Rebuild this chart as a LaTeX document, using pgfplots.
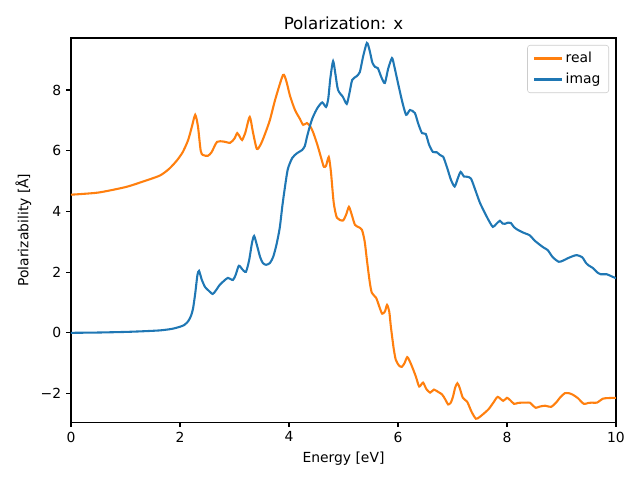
\documentclass[border=0pt]{standalone}
\usepackage{pgfplots}
\pgfplotsset{compat=1.18}
\usepackage{fontspec}
\setmainfont{DejaVu Sans}
\definecolor{mplorange}{HTML}{FF7F0E}
\definecolor{mplblue}{HTML}{1F77B4}
\begin{document}
\begin{tikzpicture}
\begin{axis}[
  scale only axis,
  width=392.4pt, height=276.5pt,
  xmin=0, xmax=10, ymin=-2.94, ymax=9.71,
  xtick={0,2,4,6,8,10},
  ytick={-2,0,2,4,6,8},
  yticklabels={−2,0,2,4,6,8},
  /pgf/number format/assume math mode=true,
  tick align=outside, tick pos=left,
  major tick length=3.5pt,
  every tick/.style={black, line width=0.8pt},
  axis line style={line width=0.8pt},
  ticklabel style={font=\fontsize{10}{12}\selectfont},
  xlabel={Energy [eV]}, ylabel={Polarizability [Å]},
  label style={font=\fontsize{10}{12}\selectfont},
  title={Polarization: x},
  title style={font=\fontsize{12}{14}\selectfont, yshift=-3.5pt},
  legend style={at={(1,1)}, anchor=north east, xshift=-5pt, yshift=-5pt,
    draw=black!20, rounded corners=2pt, fill=white, fill opacity=0.8, text opacity=1,
    font=\fontsize{10}{12}\selectfont, inner xsep=4pt, inner ysep=3pt, row sep=2pt},
  legend cell align=left,
  legend image code/.code={\draw[#1] (0pt,0pt) -- (20pt,0pt);},
]
\addplot[mplorange, line width=1.5pt, smooth, tension=0.4] coordinates {
(0,4.55) (0.5,4.62) (1.0,4.80) (1.3,4.97) (1.63,5.18) (1.8,5.4) (1.94,5.67) (2.05,5.95) (2.15,6.35) (2.22,6.8) (2.28,7.18) (2.33,6.8) (2.38,6.0) (2.42,5.86) (2.51,5.83) (2.58,5.95) (2.68,6.29) (2.8,6.3) (2.92,6.26) (3.0,6.4) (3.05,6.58) (3.1,6.45) (3.14,6.35) (3.2,6.6) (3.28,7.11) (3.34,6.6) (3.41,6.06) (3.48,6.2) (3.56,6.55) (3.65,7.01) (3.75,7.7) (3.89,8.49) (3.95,8.3) (4.02,7.8) (4.11,7.34) (4.2,7.05) (4.26,6.85) (4.33,6.91) (4.39,6.8) (4.44,6.62) (4.52,6.2) (4.6,5.7) (4.64,5.47) (4.68,5.5) (4.73,5.79) (4.77,5.3) (4.82,4.3) (4.88,3.79) (4.99,3.70) (5.05,3.9) (5.10,4.15) (5.15,3.9) (5.21,3.56) (5.28,3.48) (5.34,3.39) (5.39,3.0) (5.43,2.40) (5.48,1.7) (5.52,1.32) (5.60,1.15) (5.66,0.85) (5.71,0.63) (5.76,0.7) (5.80,0.92) (5.84,0.7) (5.87,0.20) (5.92,-0.5) (5.96,-0.89) (6.02,-1.08) (6.07,-1.12) (6.12,-1.0) (6.17,-0.80) (6.22,-0.95) (6.28,-1.21) (6.33,-1.45) (6.39,-1.77) (6.46,-1.64) (6.52,-1.85) (6.59,-1.97) (6.66,-1.87) (6.74,-1.95) (6.81,-2.03) (6.87,-2.2) (6.92,-2.36) (6.97,-2.3) (7.01,-2.10) (7.05,-1.8) (7.09,-1.66) (7.13,-1.8) (7.19,-2.14) (7.27,-2.27) (7.35,-2.6) (7.43,-2.83) (7.5,-2.77) (7.6,-2.62) (7.67,-2.50) (7.75,-2.3) (7.83,-2.11) (7.93,-2.24) (8.00,-2.14) (8.06,-2.22) (8.13,-2.34) (8.2,-2.31) (8.27,-2.30) (8.35,-2.30) (8.42,-2.30) (8.48,-2.40) (8.53,-2.47) (8.6,-2.43) (8.70,-2.40) (8.81,-2.44) (8.9,-2.3) (8.98,-2.12) (9.06,-1.99) (9.14,-1.99) (9.21,-2.04) (9.3,-2.15) (9.41,-2.34) (9.49,-2.31) (9.56,-2.30) (9.65,-2.30) (9.76,-2.17) (9.85,-2.15) (10,-2.14)
};
\addlegendentry{real}
\addplot[mplblue, line width=1.5pt, smooth, tension=0.4] coordinates {
(0,0) (0.5,0.01) (1.0,0.03) (1.3,0.05) (1.63,0.08) (1.85,0.13) (2.0,0.2) (2.08,0.26) (2.15,0.38) (2.2,0.55) (2.24,0.8) (2.28,1.3) (2.32,1.9) (2.35,2.04) (2.4,1.75) (2.46,1.51) (2.52,1.4) (2.60,1.28) (2.66,1.4) (2.73,1.58) (2.8,1.7) (2.88,1.81) (2.97,1.74) (3.02,1.9) (3.08,2.21) (3.14,2.1) (3.21,2.01) (3.27,2.4) (3.32,2.95) (3.36,3.19) (3.41,2.9) (3.47,2.50) (3.52,2.3) (3.58,2.24) (3.65,2.3) (3.71,2.50) (3.77,2.9) (3.83,3.45) (3.88,4.2) (3.93,4.85) (3.98,5.4) (4.06,5.76) (4.15,5.92) (4.24,6.02) (4.29,6.15) (4.33,6.45) (4.39,6.85) (4.44,7.11) (4.52,7.4) (4.61,7.59) (4.68,7.44) (4.72,7.7) (4.76,8.4) (4.81,8.95) (4.85,8.55) (4.90,8.0) (4.99,7.77) (5.06,7.54) (5.11,7.9) (5.16,8.33) (5.24,8.45) (5.30,8.59) (5.36,9.1) (5.43,9.55) (5.48,9.3) (5.53,8.9) (5.58,8.76) (5.63,8.72) (5.7,8.4) (5.76,8.23) (5.82,8.7) (5.89,9.05) (5.93,8.8) (6.0,8.23) (6.08,7.6) (6.15,7.18) (6.22,7.34) (6.31,7.24) (6.37,6.9) (6.44,6.58) (6.51,6.55) (6.57,6.2) (6.64,5.96) (6.71,5.95) (6.77,5.86) (6.83,5.8) (6.9,5.45) (6.97,5.05) (7.04,4.82) (7.10,5.1) (7.15,5.30) (7.21,5.15) (7.27,5.14) (7.34,5.08) (7.42,4.7) (7.5,4.3) (7.58,4.0) (7.66,3.72) (7.74,3.49) (7.80,3.58) (7.87,3.69) (7.92,3.6) (7.96,3.59) (8.02,3.63) (8.07,3.62) (8.13,3.48) (8.20,3.39) (8.3,3.3) (8.42,3.21) (8.5,3.05) (8.61,2.89) (8.68,2.8) (8.75,2.72) (8.84,2.49) (8.95,2.34) (9.03,2.38) (9.12,2.46) (9.2,2.52) (9.28,2.56) (9.38,2.49) (9.45,2.3) (9.49,2.23) (9.58,2.13) (9.65,2.0) (9.72,1.93) (9.83,1.93) (9.92,1.86) (10,1.80)
};
\addlegendentry{imag}
\end{axis}
\path ([xshift=-51.1pt,yshift=-41.8pt]current axis.south west) rectangle ([xshift=17.3pt,yshift=27.4pt]current axis.north east);
\end{tikzpicture}
\end{document}
